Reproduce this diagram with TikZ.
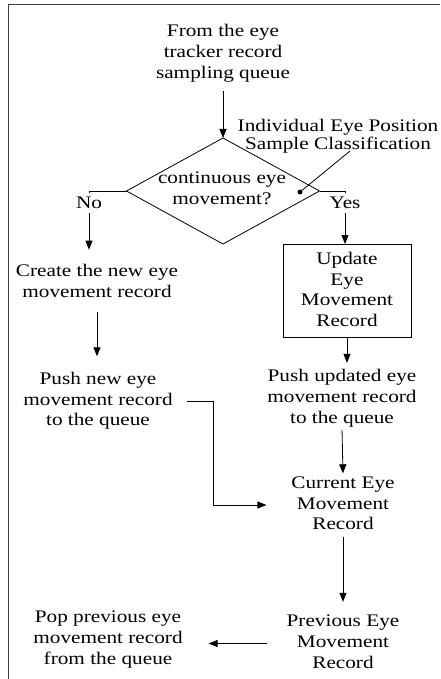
\documentclass[tikz,border=0pt]{standalone}
\usepackage{fontspec}
\setmainfont{Liberation Serif}[FakeStretch=1.2]
\usetikzlibrary{arrows.meta,shapes.geometric}
\newcommand\tl{\rule{0pt}{13pt}}
\newcommand\bl{\rule[-5pt]{0pt}{5pt}}
\tikzset{
  txt/.style={inner sep=0pt, outer sep=0pt, align=center, font=\fontsize{17.7}{20.7}\selectfont},
  conn/.style={line width=0.8pt, draw=black},
  arr/.style={conn, -{Triangle[length=9pt,width=7pt]}},
  frame/.style={line width=1pt, draw=black!75},
}
\begin{document}
\begin{tikzpicture}[x=1pt,y=-1pt]
\useasboundingbox (0,0) rectangle (440,679);
\draw[frame] (440,5) -- (8,5) -- (8,679);

\node[txt] (src) at (223,53.5) {\tl From the eye\\tracker record\\sampling queue\bl};
\node[diamond, draw, line width=0.8pt, minimum width=193pt, minimum height=106pt, inner sep=0pt, outer sep=0pt] (dec) at (223,191) {};
\node[txt] (dectxt) at (222,190) {\tl continuous eye\\movement?\bl};
\node[txt, font=\fontsize{17.7}{15}\selectfont] (cls) at (338,136.5) {\tl Individual Eye Position\\Sample Classification\bl};
\node[circle, fill=black, inner sep=0pt, minimum size=5pt] (dot) at (300,192) {};
\coordinate (lead) at (350,151);
\draw[conn] (lead) -- (dot);

\node[txt, inner ysep=4pt] (no) at (89,203) {No};
\node[txt, inner ysep=4pt] (yes) at (345,203) {Yes};

\node[txt] (create) at (97,283) {\tl Create the new eye\\movement record\bl};
\node[txt] (pushnew) at (98,401) {\tl Push new eye\\movement record\\to the queue\bl};
\node[draw, line width=0.8pt, minimum width=128pt, minimum height=93pt, inner sep=0pt, outer sep=0pt] (upd) at (347,290.5) {};
\node[txt] (updtxt) at (347,291.5) {\tl Update\\Eye\\Movement\\Record\bl};
\node[txt] (pushupd) at (342,398.5) {\tl Push updated eye\\movement record\\to the queue\bl};
\node[txt] (current) at (343,505) {\tl Current Eye\\Movement\\Record\bl};
\node[txt] (prev) at (343,643.5) {\tl Previous Eye\\Movement\\Record\bl};
\node[txt] (pop) at (108,639.5) {\tl Pop previous eye\\movement record\\from the queue\bl};

\draw[arr, shorten <=8pt] (src.south) -- (dec.north);
\draw[conn] (dec.west) -| (no.north);
\draw[arr, shorten >=14pt] (no.south) -- (no.south |- create.north);
\draw[conn] (dec.east) -| (yes.north);
\draw[arr] (yes.south) -- (yes.south |- upd.north);
\draw[arr, shorten <=10pt, shorten >=15pt] (create.south) -- (create.south |- pushnew.north);
\draw[arr, shorten >=6pt] (upd.south) -- (upd.south |- pushupd.north);
\draw[arr, shorten <=2pt, shorten >=2pt] (pushupd.south) -- (current.north);
\draw[arr, shorten <=14pt, shorten >=25pt] (pushnew.east) -- ++(41,0) |- (current.west);
\draw[arr, shorten <=2pt, shorten >=12pt] (current.south) -- (prev.north);
\draw[arr, shorten <=20pt, shorten >=26pt] (prev.west) -- (prev.west -| pop.east);
\end{tikzpicture}
\end{document}
